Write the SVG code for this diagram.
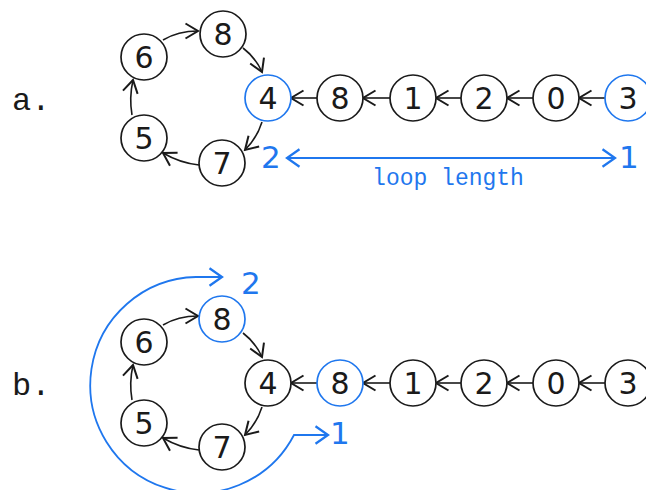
<svg xmlns="http://www.w3.org/2000/svg" width="646" height="490" viewBox="0 0 646 490">
  <style>
    .node circle { fill: #fff; stroke: #1a1a1a; stroke-width: 1.7; }
    .node.hl circle { stroke: #1f77ee; }
    .node text { font-family: "DejaVu Sans", "Liberation Sans", sans-serif; font-size: 30px; fill: #1a1a1a; text-anchor: middle; }
    .edge { fill: none; stroke: #1a1a1a; stroke-width: 1.6; marker-end: url(#head); }
    .blue { fill: none; stroke: #1f77ee; stroke-width: 1.8; }
    .lbl { font-family: "Liberation Mono", "DejaVu Sans Mono", monospace; font-size: 32px; fill: #1a1a1a; }
    .num { font-family: "DejaVu Sans", "Liberation Sans", sans-serif; font-size: 31px; fill: #1f77ee; }
    .cap { font-family: "Liberation Mono", "DejaVu Sans Mono", monospace; font-size: 23px; fill: #1f77ee; text-anchor: middle; }
  </style>
  <defs>
    <marker id="head" markerUnits="userSpaceOnUse" markerWidth="20" markerHeight="20" viewBox="-12 -8 14 16" refX="0" refY="0" orient="auto">
      <path d="M -10 -6 L 0 0 L -10 6" fill="none" stroke="#1a1a1a" stroke-width="1.6"/>
    </marker>
    <marker id="bhead" markerUnits="userSpaceOnUse" markerWidth="20" markerHeight="20" viewBox="-12 -8 14 16" refX="0" refY="0" orient="auto-start-reverse">
      <path d="M -10 -7 L 0 0 L -10 7" fill="none" stroke="#1f77ee" stroke-width="1.8"/>
    </marker>
  </defs>

  <!-- row labels -->
  <text class="lbl" x="12" y="110">a.</text>
  <text class="lbl" x="12" y="395">b.</text>

  <!-- connectors, part a -->
  <g id="edges-a">
    <path class="edge" d="M 605 98 L 579 98"/>
    <path class="edge" d="M 533 98 L 507 98"/>
    <path class="edge" d="M 461 98 L 436 98"/>
    <path class="edge" d="M 390 98 L 363 98"/>
    <path class="edge" d="M 317 98 L 291 98"/>
    <path class="edge" d="M 163 40 Q 178 31 198 31"/>
    <path class="edge" d="M 243 48 Q 256 58 262 72"/>
    <path class="edge" d="M 262 122 Q 257 138 245 150"/>
    <path class="edge" d="M 199 165 Q 180 163 163 153"/>
    <path class="edge" d="M 132 115 Q 129 98 133 80"/>
    <path class="blue" d="M 287 158 L 615 158" marker-start="url(#bhead)" marker-end="url(#bhead)"/>
  </g>

  <!-- nodes, part a -->
  <g id="a-n6" class="node"><circle cx="144" cy="57" r="23"/><text x="144" y="68">6</text></g>
  <g id="a-n8r" class="node"><circle cx="223" cy="34" r="23"/><text x="223" y="45">8</text></g>
  <g id="a-n4" class="node hl"><circle cx="268" cy="98" r="23"/><text x="268" y="109">4</text></g>
  <g id="a-n7" class="node"><circle cx="222" cy="163" r="23"/><text x="222" y="174">7</text></g>
  <g id="a-n5" class="node"><circle cx="144" cy="138" r="23"/><text x="144" y="149">5</text></g>
  <g id="a-n8" class="node"><circle cx="340" cy="98" r="23"/><text x="340" y="109">8</text></g>
  <g id="a-n1" class="node"><circle cx="413" cy="98" r="23"/><text x="413" y="109">1</text></g>
  <g id="a-n2" class="node"><circle cx="484" cy="98" r="23"/><text x="484" y="109">2</text></g>
  <g id="a-n0" class="node"><circle cx="556" cy="98" r="23"/><text x="556" y="109">0</text></g>
  <g id="a-n3" class="node hl"><circle cx="628" cy="98" r="23"/><text x="628" y="109">3</text></g>

  <text class="num" x="261" y="168">2</text>
  <text class="num" x="619" y="168">1</text>
  <text class="cap" x="448" y="185">loop length</text>

  <!-- connectors, part b -->
  <g id="edges-b">
    <path class="edge" d="M 605 383 L 579 383"/>
    <path class="edge" d="M 533 383 L 507 383"/>
    <path class="edge" d="M 461 383 L 436 383"/>
    <path class="edge" d="M 390 383 L 363 383"/>
    <path class="edge" d="M 317 383 L 291 383"/>
    <path class="edge" d="M 163 325 Q 178 316 198 316"/>
    <path class="edge" d="M 243 333 Q 256 343 262 357"/>
    <path class="edge" d="M 262 407 Q 257 423 245 435"/>
    <path class="edge" d="M 199 450 Q 180 448 163 438"/>
    <path class="edge" d="M 132 400 Q 129 383 133 365"/>
    <path class="blue" d="M 328 435 L 294 435 A 108 108 0 1 1 196 277 L 222 277" marker-start="url(#bhead)" marker-end="url(#bhead)"/>
  </g>

  <!-- nodes, part b -->
  <g id="b-n6" class="node"><circle cx="144" cy="342" r="23"/><text x="144" y="353">6</text></g>
  <g id="b-n8r" class="node hl"><circle cx="222" cy="319" r="23"/><text x="222" y="330">8</text></g>
  <g id="b-n4" class="node"><circle cx="268" cy="383" r="23"/><text x="268" y="394">4</text></g>
  <g id="b-n7" class="node"><circle cx="222" cy="447" r="23"/><text x="222" y="458">7</text></g>
  <g id="b-n5" class="node"><circle cx="144" cy="423" r="23"/><text x="144" y="434">5</text></g>
  <g id="b-n8" class="node hl"><circle cx="340" cy="383" r="23"/><text x="340" y="394">8</text></g>
  <g id="b-n1" class="node"><circle cx="413" cy="383" r="23"/><text x="413" y="394">1</text></g>
  <g id="b-n2" class="node"><circle cx="484" cy="383" r="23"/><text x="484" y="394">2</text></g>
  <g id="b-n0" class="node"><circle cx="556" cy="383" r="23"/><text x="556" y="394">0</text></g>
  <g id="b-n3" class="node"><circle cx="628" cy="383" r="23"/><text x="628" y="394">3</text></g>

  <text class="num" x="241" y="294">2</text>
  <text class="num" x="330" y="444">1</text>
</svg>
